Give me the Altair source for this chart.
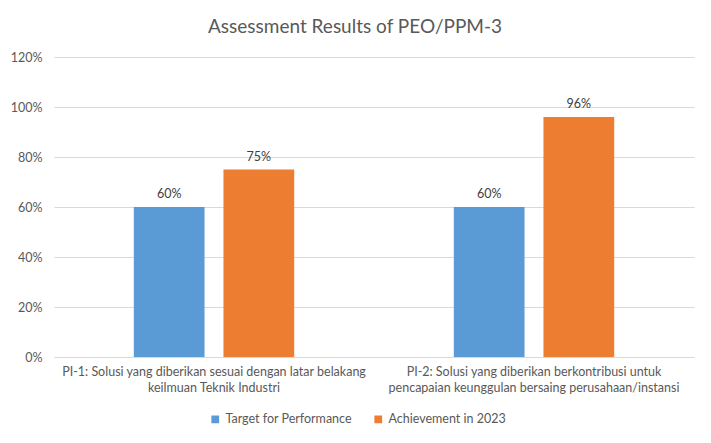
import altair as alt
import pandas as pd

categories = [
    "PI-1: Solusi yang diberikan sesuai dengan latar belakang\nkeilmuan Teknik Industri",
    "PI-2: Solusi yang diberikan berkontribusi untuk\npencapaian keunggulan bersaing perusahaan/instansi",
]
series = ["Target for Performance", "Achievement in 2023"]
target = [0.60, 0.60]
achievement = [0.75, 0.96]
colors = ["#5B9BD5", "#ED7D31"]

rows = []
for i, c in enumerate(categories):
    rows.append({"cat": c, "series": series[0], "value": target[i]})
    rows.append({"cat": c, "series": series[1], "value": achievement[i]})
df = pd.DataFrame(rows)

FONT = "Lato"
GRAY = "#595959"

x = alt.X("cat:N", sort=categories, title=None,
          scale=alt.Scale(paddingInner=0, paddingOuter=0),
          axis=alt.Axis(labelAngle=0, labelExpr="split(datum.label, '\\n')",
                        labelFontSize=12.5, labelColor=GRAY, labelFont=FONT,
                        labelLineHeight=16, labelPadding=8, ticks=False,
                        domain=False, labelLimit=400))
xo = alt.XOffset("series:N", sort=series,
                 scale=alt.Scale(paddingInner=0.211, paddingOuter=0.89))
y = alt.Y("value:Q", title=None,
          scale=alt.Scale(domain=[0, 1.2], nice=False),
          axis=alt.Axis(values=[0, 0.2, 0.4, 0.6, 0.8, 1.0, 1.2], format=".0%",
                        labelFontSize=12.5, labelColor=GRAY, labelFont=FONT,
                        ticks=False, domain=False, labelPadding=12,
                        gridColor="#D9D9D9", gridWidth=1))
color = alt.Color("series:N", sort=series,
                  scale=alt.Scale(domain=series, range=colors),
                  legend=alt.Legend(title=None, orient="none", direction="horizontal",
                                    legendX=155, legendY=356, symbolType="square",
                                    symbolSize=60, symbolStrokeWidth=0,
                                    labelFont=FONT, labelFontSize=12.5,
                                    labelColor=GRAY, columnPadding=20,
                                    labelOffset=4))

bars = alt.Chart(df).mark_bar().encode(x=x, xOffset=xo, y=y, color=color)
labels = alt.Chart(df).mark_text(baseline="bottom", dy=-6, font=FONT, fontSize=12.5,
                                 color="#404040").encode(
    x=x, xOffset=xo, y=y, text=alt.Text("value:Q", format=".0%"))

chart = (bars + labels).properties(
    width=640, height=300,
    autosize=alt.AutoSizeParams(type="none"),
    padding={"left": 54, "top": 57, "right": 17, "bottom": 86},
    title=alt.TitleParams("Assessment Results of PEO/PPM-3", font=FONT,
                          fontSize=19, fontWeight="normal", color=GRAY,
                          anchor="middle", dx=-19, offset=14),
    background="white",
).configure_view(stroke=None)

chart.save("out.html", embed_options={"renderer": "svg", "actions": False})
